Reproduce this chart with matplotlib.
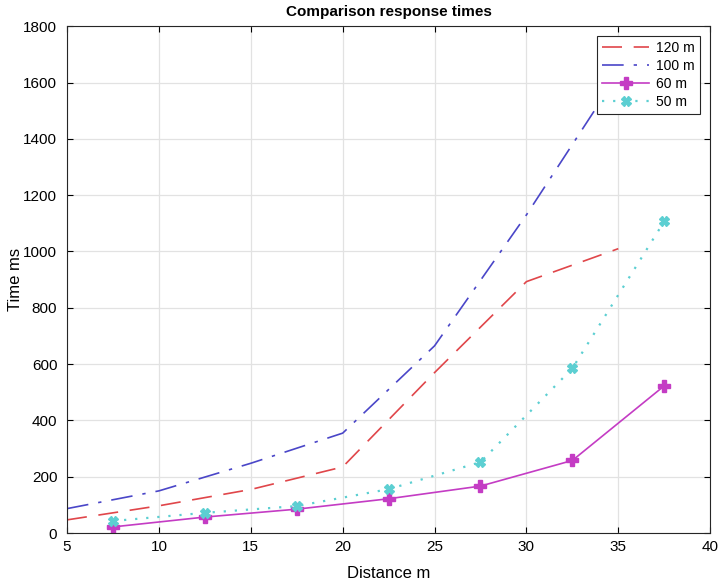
import matplotlib.pyplot as plt

plt.rcParams["font.family"] = ["Liberation Sans", "DejaVu Sans"]

# distances (m) and response times (ms) per range setting
dist_120 = [5, 10, 15, 20, 25, 30, 35]
time_120 = [47, 97, 155, 235, 570, 893, 1010]

dist_100 = [5, 10, 15, 20, 25, 30, 35]
time_100 = [87, 150, 248, 355, 665, 1130, 1630]

dist_60 = [7.5, 12.5, 17.5, 22.5, 27.5, 32.5, 37.5]
time_60 = [22, 57, 85, 122, 167, 258, 523]

dist_50 = [7.5, 12.5, 17.5, 22.5, 27.5, 32.5, 37.5]
time_50 = [43, 72, 96, 156, 252, 585, 1107]

fig = plt.figure(figsize=(7.21, 5.82), dpi=100)
ax = fig.add_axes([0.093, 0.084, 0.892, 0.871])

ax.plot(dist_120, time_120, color="#e0464a", linestyle=(0, (12, 7)),
        linewidth=1.2, label="120 m")
ax.plot(dist_100, time_100, color="#4a46c8", linestyle=(0, (13, 6, 2, 6)),
        linewidth=1.2, label="100 m")
ax.plot(dist_60, time_60, color="#c43cc4", linestyle="-", linewidth=1.2,
        marker="P", markersize=8, label="60 m")
ax.plot(dist_50, time_50, color="#5ccfd2", linestyle=(0, (1, 4)),
        linewidth=1.6, marker="X", markersize=7, label="50 m")

ax.set_xlim(5, 40)
ax.set_ylim(0, 1800)
ax.set_xticks(range(5, 41, 5))
ax.set_yticks(range(0, 1801, 200))
ax.tick_params(direction="in", labelsize=11, length=4, top=True, right=True,
               labeltop=False, labelright=False)
ax.tick_params(axis="y", pad=7)
ax.tick_params(axis="x", pad=5)
ax.grid(True, color="#e2e2e2", linewidth=0.9)
ax.set_axisbelow(True)
for sp in ax.spines.values():
    sp.set_linewidth(0.8)
    sp.set_color("#262626")

ax.set_title("Comparison response times", fontsize=11, fontweight="bold", pad=7)
ax.set_xlabel("Distance m", fontsize=12, labelpad=8.5)
ax.set_ylabel("Time ms", fontsize=12, labelpad=0)

leg = ax.legend(loc="upper right", fontsize=10, fancybox=False, framealpha=1,
                edgecolor="#262626", borderpad=0.35, labelspacing=0.3,
                handlelength=3.4, handletextpad=0.5,
                bbox_to_anchor=(0.995, 0.995))
leg.get_frame().set_linewidth(0.8)

fig.savefig("out.png", dpi=100)
